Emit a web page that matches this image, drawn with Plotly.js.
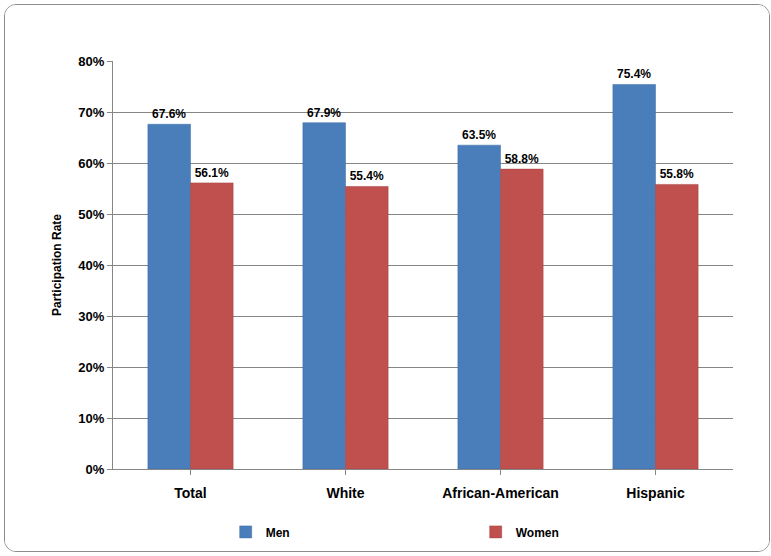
<!DOCTYPE html>
<html>
<head>
<script src="https://cdn.plot.ly/plotly-3.0.1.min.js"></script>
<style>
body { margin:0; padding:0; background:#fff; }
#frame { position:absolute; left:4px; top:4px; width:764px; height:546px; border:1px solid #8c8c8c; border-radius:12px; overflow:hidden; }
#chart { width:764px; height:546px; }
</style>
</head>
<body>
<div id="frame"><div id="chart"></div></div>
<script>
var categories = ['Total', 'White', 'African-American', 'Hispanic'];
var men = [0.676, 0.679, 0.635, 0.754];
var women = [0.561, 0.554, 0.588, 0.558];

function pct(arr)
{
    return arr.map(function(v){ return (v * 100).toFixed(1) + '%'; });
}

var trace1 =
{
    x: categories, y: men, name: 'Men', type: 'bar',
    marker: {color: '#4a7ebb', line: {color: '#3a6aa5', width: 0.5}},
    text: pct(men), textposition: 'outside', cliponaxis: false,
    textfont: {size: 12, color: '#000', family: 'Liberation Sans, Arial'}
};
var trace2 =
{
    x: categories, y: women, name: 'Women', type: 'bar',
    marker: {color: '#c0504d', line: {color: '#a54240', width: 0.5}},
    text: pct(women), textposition: 'outside', cliponaxis: false,
    textfont: {size: 12, color: '#000', family: 'Liberation Sans, Arial'}
};
var layout =
{
    width: 764, height: 546,
    barmode: 'group', bargap: 0.45, bargroupgap: 0,
    font: {family: 'Liberation Sans, Arial', size: 13, color: '#000', weight: 'bold'},
    margin: {l: 108, r: 36, t: 56, b: 82},
    xaxis: {showline: true, linecolor: '#868686', ticks: 'outside', ticklen: 5, tickcolor: '#868686',
            tickfont: {size: 14, weight: 'bold'}, showdividers: false, automargin: false,
            ticklabelstandoff: 6},
    yaxis: {range: [0, 0.8], dtick: 0.1, tickformat: '.0%', showgrid: true, gridcolor: '#868686',
            showline: true, linecolor: '#868686', ticks: 'outside', ticklen: 5, tickcolor: '#868686',
            zeroline: false, tickfont: {size: 13, weight: 'bold'}, automargin: false,
            title: {text: 'Participation Rate', font: {size: 12, weight: 'bold'}, standoff: 14}},
    legend: {orientation: 'h', x: 0.585, xanchor: 'center', yref: 'container', y: 0.035, yanchor: 'middle',
             entrywidth: 205, font: {size: 12, weight: 'bold'}},
    paper_bgcolor: '#fff', plot_bgcolor: '#fff'
};
Plotly.newPlot('chart', [trace1, trace2], layout, {displayModeBar: false, staticPlot: true});
</script>
</body>
</html>
